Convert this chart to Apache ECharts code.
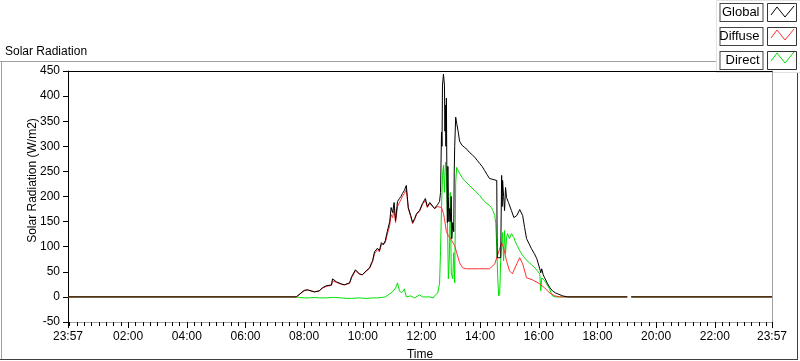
<!DOCTYPE html>
<html>
<head>
<meta charset="utf-8">
<script src="https://cdn.jsdelivr.net/npm/echarts@6/dist/echarts.min.js"></script>
<style>
  html, body { margin: 0; padding: 0; background: #fff; }
  #chart { width: 800px; height: 361px; }
</style>
</head>
<body>
<div id="chart"></div>
<script>
// time = minutes after midnight, -3 is 23:57 of the day before
const majorTicks = [-3, 120, 240, 360, 480, 600, 720, 840, 960, 1080, 1200, 1320, 1437];
const seriesNames = ['Global', 'Diffuse', 'Direct'];

const globalData = [
  [-3, 0], [464, 0], [480, 13], [487, 14], [491, 14], [501, 10], [505, 8], [511, 12], [515, 14], [517, 18],
  [525, 22], [528, 20], [536, 24], [538, 36], [540, 36], [546, 30], [548, 28], [556, 26], [562, 24], [566, 24],
  [573, 28], [577, 40], [579, 40], [585, 54], [587, 52], [593, 46], [597, 46], [599, 44], [607, 52], [614, 58],
  [618, 68], [620, 72], [624, 90], [630, 97], [634, 92], [638, 108], [642, 104], [646, 112], [650, 130], [655, 150],
  [658, 178], [661, 168], [664, 188], [667, 152], [671, 190], [675, 196], [678, 200], [681, 206], [685, 212], [689, 222],
  [691, 200], [693, 178], [698, 162], [702, 148], [706, 156], [710, 166], [716, 172], [722, 186], [728, 196], [732, 180],
  [737, 188], [741, 186], [747, 176], [753, 184], [757, 190], [759, 208], [761, 328], [762, 300], [763, 422], [765, 444],
  [767, 422], [768, 330], [769, 382], [770, 300], [771, 396], [772, 240], [773, 148], [774, 260], [775, 200], [776, 150],
  [777, 176], [779, 150], [781, 200], [782, 116], [784, 148], [786, 130], [787, 250], [788, 300], [790, 358], [792, 346],
  [795, 330], [798, 310], [803, 302], [808, 298], [813, 294], [818, 288], [823, 284], [829, 278], [834, 272], [839, 266],
  [844, 260], [849, 252], [854, 244], [859, 236], [866, 234], [870, 234], [874, 232], [875, 78], [878, 76], [882, 78],
  [884, 242], [885, 180], [886, 232], [888, 200], [890, 172], [892, 218], [894, 198], [898, 188], [904, 172], [909, 158],
  [915, 162], [921, 174], [927, 162], [931, 138], [935, 116], [940, 106], [945, 96], [951, 86], [956, 76], [962, 56],
  [964, 48], [966, 56], [969, 44], [972, 38], [978, 26], [983, 18], [988, 12], [994, 8], [999, 6], [1009, 2],
  [1019, 0], [1141, 0], [1145, null], [1149, 0], [1437, 0]
];

const diffuseData = [
  [-3, 0], [464, 0], [480, 12], [487, 14], [491, 13], [501, 10], [505, 8], [511, 12], [515, 13], [517, 17],
  [525, 21], [528, 20], [536, 23], [538, 32], [540, 33], [546, 29], [548, 28], [556, 25], [562, 24], [566, 24],
  [573, 27], [577, 38], [579, 39], [585, 52], [587, 51], [593, 45], [597, 45], [599, 44], [607, 51], [614, 57],
  [618, 66], [620, 70], [624, 86], [630, 94], [634, 90], [638, 104], [642, 102], [646, 108], [650, 124], [655, 142],
  [658, 164], [661, 158], [664, 176], [667, 148], [671, 180], [675, 188], [678, 194], [681, 200], [685, 206], [689, 214],
  [691, 196], [693, 176], [698, 160], [702, 146], [706, 154], [710, 164], [716, 170], [722, 184], [728, 192], [732, 178],
  [737, 186], [741, 184], [747, 176], [753, 180], [757, 182], [761, 178], [765, 166], [767, 156], [771, 130], [775, 122],
  [782, 112], [788, 102], [792, 88], [798, 68], [804, 58], [812, 56], [823, 56], [839, 56], [859, 56], [866, 62],
  [870, 66], [874, 78], [878, 80], [884, 108], [886, 102], [888, 98], [894, 72], [900, 52], [906, 46], [915, 66],
  [921, 78], [927, 66], [935, 38], [947, 34], [962, 26], [972, 18], [982, 8], [993, 2], [1003, 0], [1141, 0],
  [1145, null], [1149, 0], [1437, 0]
];

const directData = [
  [-3, 0], [464, 0], [470, -1], [480, -2], [491, -2], [501, -1], [511, -2], [525, -2], [540, -1], [556, -2],
  [566, -3], [577, -3], [593, -2], [607, -3], [620, -2], [630, -2], [640, -1], [646, 0], [650, 2], [655, 6],
  [659, 4], [661, 10], [664, 8], [667, 18], [669, 22], [671, 28], [673, 20], [675, 12], [677, 14], [679, 8],
  [681, 10], [683, 12], [685, 16], [687, 8], [689, 0], [693, 0], [698, 2], [702, 0], [706, -2], [710, 0],
  [716, 4], [719, 2], [722, 0], [728, 0], [732, -2], [737, 0], [741, 0], [744, -2], [747, 2], [750, 2],
  [753, 8], [757, 26], [759, 92], [761, 176], [763, 242], [765, 262], [767, 208], [769, 268], [771, 248], [773, 162],
  [775, 36], [777, 76], [779, 208], [781, 48], [782, 48], [784, 36], [786, 88], [788, 28], [790, 228], [792, 258],
  [795, 252], [798, 246], [803, 238], [808, 232], [813, 227], [818, 222], [823, 217], [829, 212], [834, 207], [839, 202],
  [844, 196], [849, 190], [854, 186], [859, 182], [863, 178], [866, 172], [870, 162], [872, 146], [874, 98], [876, 38],
  [878, 2], [880, 6], [882, 72], [884, 98], [886, 128], [888, 72], [890, 132], [892, 86], [894, 118], [896, 126],
  [900, 116], [904, 126], [909, 118], [911, 112], [916, 102], [921, 92], [926, 84], [931, 78], [936, 72], [941, 68],
  [946, 63], [952, 58], [957, 52], [962, 46], [964, 12], [966, 38], [969, 35], [972, 32], [977, 24], [982, 16],
  [985, 8], [988, 2], [993, 0], [1009, 0], [1141, 0], [1145, null], [1149, 0], [1437, 0]
];

const FONT = 'Liberation Sans';

// 15 minute minor ticks
const minorTicks = [];
for (let m = 0; m <= 1425; m += 15) minorTicks.push(m);

function hhmm(v) {
  const m = ((Math.round(v) % 1440) + 1440) % 1440;
  const h = Math.floor(m / 60);
  const mm = m % 60;
  return (h < 10 ? '0' : '') + h + ':' + (mm < 10 ? '0' : '') + mm;
}

// little zigzag in the legend swatches (box top-left at 768, row y)
function zigzag(y, color) {
  return {
    type: 'polyline', z: 100,
    shape: { points: [[771, y + 12], [777, y + 4], [785, y + 14], [794, y + 3]] },
    style: { stroke: color, fill: null, lineWidth: 1 }
  };
}

const chart = echarts.init(document.getElementById('chart'));

const option = {
  animation: false,
  backgroundColor: '#fff',
  title: {
    text: 'Solar Radiation', left: 0, top: 41,
    textStyle: { fontFamily: FONT, fontSize: 12, fontWeight: 'normal', color: '#000' }
  },
  legend: {
    orient: 'vertical', right: 3, top: 3, padding: 0, align: 'right', itemGap: 5,
    itemWidth: 29, itemHeight: 18, icon: 'rect', selectedMode: false,
    data: seriesNames,
    itemStyle: { color: '#fff', borderColor: '#333', borderWidth: 1 },
    textStyle: {
      fontFamily: FONT, fontSize: 13, color: '#000', lineHeight: 14, height: 14,
      backgroundColor: '#fff', borderColor: '#444', borderWidth: 1,
      padding: [2, 3, 1, 3], width: 36
    }
  },
  grid: { left: 68, right: 28, top: 71, bottom: 39, containLabel: false, outerBoundsMode: 'none' },
  xAxis: [
    {
      type: 'value', min: -3, max: 1437, position: 'bottom',
      name: 'Time', nameLocation: 'middle', nameGap: 27, nameMoveOverlap: false,
      nameTextStyle: { fontFamily: FONT, fontSize: 12, color: '#000' },
      axisLine: { onZero: false, lineStyle: { color: '#a0a0a0', width: 1 } },
      axisTick: { customValues: majorTicks, length: 6, lineStyle: { color: '#000' } },
      axisLabel: {
        customValues: majorTicks, formatter: hhmm, margin: 9,
        fontFamily: FONT, fontSize: 12, color: '#000'
      },
      splitLine: { show: false }
    },
    {
      type: 'value', min: -3, max: 1437, position: 'bottom',
      axisLine: { show: false, onZero: false },
      axisTick: { customValues: minorTicks, length: 4, lineStyle: { color: '#000' } },
      axisLabel: { show: false },
      splitLine: { show: false }
    },
    {
      type: 'value', min: -3, max: 1437, position: 'top',
      axisLine: { onZero: false, lineStyle: { color: '#000', width: 1 } },
      axisTick: { show: false }, axisLabel: { show: false }, splitLine: { show: false }
    }
  ],
  yAxis: [
    {
      type: 'value', min: -50, max: 450, interval: 50,
      name: 'Solar Radiation (W/m2)', nameLocation: 'middle', nameGap: 29, nameMoveOverlap: false,
      nameTextStyle: { fontFamily: FONT, fontSize: 12, color: '#000', padding: [0, 0, 0, 32] },
      axisLine: { onZero: false, lineStyle: { color: '#000', width: 1 } },
      axisTick: { length: 5, lineStyle: { color: '#000' } },
      axisLabel: { margin: 8, fontFamily: FONT, fontSize: 12, color: '#000' },
      splitLine: { show: false }
    },
    {
      type: 'value', min: -50, max: 450, position: 'right',
      axisLine: { show: true, onZero: false, lineStyle: { color: '#a0a0a0', width: 1 } },
      axisTick: { show: false }, axisLabel: { show: false }, splitLine: { show: false }
    }
  ],
  series: [
    {
      name: 'Direct', type: 'line', data: directData, showSymbol: false, symbol: 'none',
      lineStyle: { color: '#00e000', width: 1 }, itemStyle: { color: '#00e000' },
      connectNulls: false, silent: true
    },
    {
      name: 'Diffuse', type: 'line', data: diffuseData, showSymbol: false, symbol: 'none',
      lineStyle: { color: '#ff3030', width: 1 }, itemStyle: { color: '#ff3030' },
      connectNulls: false, silent: true
    },
    {
      name: 'Global', type: 'line', data: globalData, showSymbol: false, symbol: 'none',
      lineStyle: { color: '#000', width: 1 }, itemStyle: { color: '#000' },
      connectNulls: false, silent: true
    }
  ],
  graphic: [
    { type: 'rect', z: -1, shape: { x: 716.5, y: 0.5, width: 84, height: 72 }, style: { fill: '#fff', stroke: '#e2e2e2' } },
    { type: 'line', shape: { x1: 0, y1: 61.5, x2: 716, y2: 61.5 }, style: { stroke: '#a0a0a0' } },
    { type: 'line', shape: { x1: 1.5, y1: 61, x2: 1.5, y2: 359 }, style: { stroke: '#a0a0a0' } },
    { type: 'line', shape: { x1: 0, y1: 359.5, x2: 798, y2: 359.5 }, style: { stroke: '#404040' } },
    { type: 'line', shape: { x1: 797.5, y1: 73, x2: 797.5, y2: 360 }, style: { stroke: '#404040' } },
    zigzag(3, '#000'),
    zigzag(26, '#ff3030'),
    zigzag(49, '#00e000')
  ]
};

chart.setOption(option);
</script>
</body>
</html>
